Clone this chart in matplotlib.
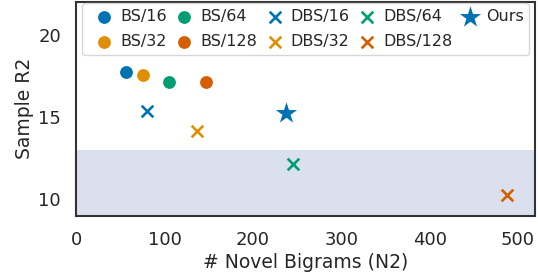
import matplotlib
matplotlib.use("Agg")
import matplotlib.pyplot as plt
import seaborn as sns

sns.set_style("white")
plt.rcParams["font.family"] = ["DejaVu Sans"]

pal = sns.color_palette("colorblind")

bs_labels = ["BS/16", "BS/32", "BS/64", "BS/128"]
bs_n2 = [56.2, 75.0, 104.4, 146.7]
bs_r2 = [17.74, 17.53, 17.15, 17.15]

dbs_labels = ["DBS/16", "DBS/32", "DBS/64", "DBS/128"]
dbs_n2 = [80.0, 136.5, 245.8, 487.2]
dbs_r2 = [15.35, 14.18, 12.16, 10.24]

ours_n2 = [236.8]
ours_r2 = [15.25]

shade_top = 13

fig, ax = plt.subplots(figsize=(5.38, 2.75), dpi=100)

ax.axhspan(0, shade_top, color="#dae0ed", zorder=0, lw=0)

for i, (lab, x, y) in enumerate(zip(bs_labels, bs_n2, bs_r2)):
    ax.scatter([x], [y], marker="o", s=85, color=pal[i], label=lab, zorder=3, lw=0)
for i, (lab, x, y) in enumerate(zip(dbs_labels, dbs_n2, dbs_r2)):
    ax.scatter([x], [y], marker="x", s=70, color=pal[i], label=lab, zorder=3, lw=1.9)
ax.scatter(ours_n2, ours_r2, marker="*", s=260, color=pal[0], label="Ours", zorder=3, lw=0)

ax.set_xlim(0, 519)
ax.set_ylim(9, 22)
ax.set_xticks([0, 100, 200, 300, 400, 500])
ax.set_yticks([10, 15, 20])
ax.tick_params(labelsize=13, colors="#262626", length=0, pad=11)
ax.set_xlabel("# Novel Bigrams (N2)", fontsize=13.5, color="#262626", labelpad=3)
ax.set_ylabel("Sample R2", fontsize=13.5, color="#262626", labelpad=3)
for sp in ax.spines.values():
    sp.set_color("#333333")
    sp.set_linewidth(1.5)

ax.legend(ncol=5, loc="upper left", fontsize=11.5,
          handlelength=2.0, handletextpad=0.0, borderpad=0.35,
          labelspacing=0.65, columnspacing=0.1, frameon=True,
          borderaxespad=0, bbox_to_anchor=(0.013, 0.993))

fig.subplots_adjust(left=0.142, right=0.994, top=0.994, bottom=0.215)
fig.savefig("out.png", dpi=100)
